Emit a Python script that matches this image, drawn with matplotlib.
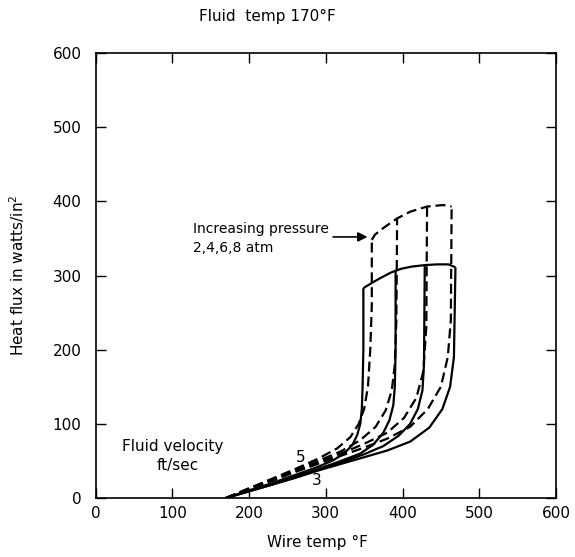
import matplotlib
matplotlib.use("Agg")
import matplotlib.pyplot as plt

plt.rcParams['font.family'] = ['DejaVu Sans']

# Velocity 3 ft/sec (solid), pressures 2,4,6,8 atm
s1_x = [170, 200, 230, 260, 290, 310, 325, 335, 341, 345, 347, 348, 349, 349]
s1_y = [0, 10, 20, 31, 42, 51, 61, 72, 85, 100, 120, 150, 200, 283]
s2_x = [170, 200, 230, 260, 290, 320, 345, 362, 375, 383, 388, 390, 391, 391]
s2_y = [0, 10, 19, 29, 39, 50, 60, 72, 88, 105, 125, 150, 200, 307]
s3_x = [170, 200, 230, 260, 290, 320, 350, 375, 395, 410, 420, 426, 428, 429]
s3_y = [0, 9, 18, 28, 38, 48, 59, 70, 84, 100, 120, 145, 180, 314]
s4_x = [170, 200, 230, 260, 290, 320, 350, 380, 410, 435, 452, 462, 467, 469]
s4_y = [0, 9, 18, 27, 37, 46, 55, 64, 76, 95, 120, 150, 190, 311]
# Peak envelope, velocity 3
se_x = [349, 360, 372, 385, 398, 412, 429, 445, 460, 469]
se_y = [283, 290, 297, 304, 309, 312, 314, 315, 315, 311]

# Velocity 5 ft/sec (dashed), pressures 2,4,6,8 atm
d1_x = [170, 200, 230, 260, 290, 315, 332, 343, 350, 355, 358, 360, 360]
d1_y = [0, 13, 26, 39, 53, 67, 82, 100, 120, 150, 200, 260, 348]
d2_x = [170, 200, 230, 260, 290, 320, 345, 365, 378, 386, 390, 392, 393]
d2_y = [0, 13, 25, 37, 50, 63, 78, 96, 118, 145, 180, 240, 377]
d3_x = [170, 200, 230, 260, 290, 320, 350, 380, 402, 418, 427, 431, 432]
d3_y = [0, 12, 24, 36, 48, 60, 73, 88, 108, 135, 170, 230, 393]
d4_x = [170, 200, 230, 260, 290, 320, 350, 380, 410, 433, 450, 459, 463, 464]
d4_y = [0, 12, 23, 35, 46, 57, 68, 80, 96, 120, 150, 190, 240, 393]
# Peak envelope, velocity 5
de_x = [360, 364, 375, 393, 410, 432, 453, 464]
de_y = [348, 355, 364, 377, 386, 393, 395, 393]

x_ticks = [0, 100, 200, 300, 400, 500, 600]
y_ticks = [0, 100, 200, 300, 400, 500, 600]

fig = plt.figure(figsize=(5.75, 5.57), dpi=100)
ax = fig.add_axes([95.5 / 575, 1 - 498 / 557, (556 - 95.5) / 575, (498 - 53) / 557])

lw = 1.6
for xs, ys in [(s1_x, s1_y), (s2_x, s2_y), (s3_x, s3_y), (s4_x, s4_y), (se_x, se_y)]:
    ax.plot(xs, ys, color='black', lw=lw, solid_capstyle='butt')
for xs, ys in [(d1_x, d1_y), (d2_x, d2_y), (d3_x, d3_y), (d4_x, d4_y), (de_x, de_y)]:
    ax.plot(xs, ys, color='black', lw=lw, dashes=(4.5, 2.2))

ax.set_xlim(0, 600)
ax.set_ylim(0, 600)
ax.set_xticks(x_ticks)
ax.set_yticks(y_ticks)
ax.tick_params(direction='in', length=7, width=1, top=True, right=True, labelsize=11)
ax.tick_params(axis='y', pad=10)
ax.tick_params(axis='x', pad=6)
for sp in ax.spines.values():
    sp.set_linewidth(1.2)

ax.set_xlabel('Wire temp °F', fontsize=11)
ax.xaxis.set_label_coords((317 - 95.5) / (556 - 95.5), -(535 - 498) / (498 - 53))
ax.set_ylabel('Heat flux in watts/in$^2$', fontsize=11)
ax.yaxis.set_label_coords(-(95.5 - 27) / (556 - 95.5), 0.5)
fig.text(267 / 575, 1 - 16 / 557, 'Fluid  temp 170°F', ha='center', va='center', fontsize=11)

ax.text(127, 363, 'Increasing pressure', fontsize=10, va='center', ha='left')
ax.text(127, 337, '2,4,6,8 atm', fontsize=10, va='center', ha='left')
ax.annotate('', xy=(358, 352), xytext=(306, 352),
            arrowprops=dict(arrowstyle='-|>', color='black', lw=1.2, mutation_scale=14))

ax.text(35, 69, 'Fluid velocity', fontsize=11, va='center', ha='left')
ax.text(80, 44, 'ft/sec', fontsize=11, va='center', ha='left')
ax.text(267, 55, '5', fontsize=11, va='center', ha='center')
ax.text(288, 24, '3', fontsize=11, va='center', ha='center')

fig.savefig('out.png', dpi=100)
